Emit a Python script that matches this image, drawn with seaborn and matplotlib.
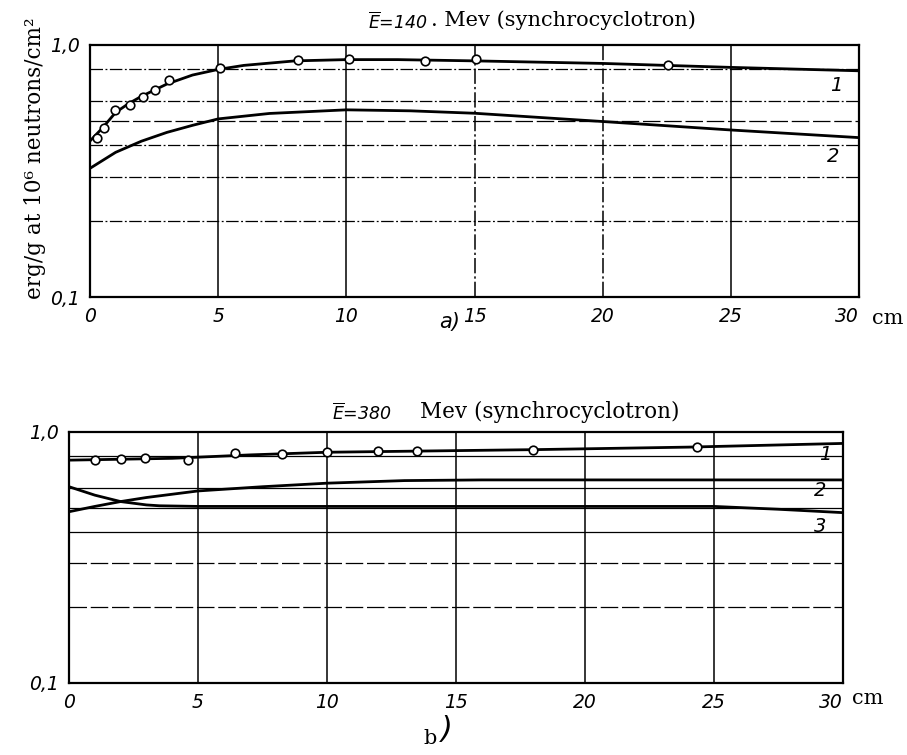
import numpy as np
import pandas as pd
import matplotlib
matplotlib.use("Agg")
import matplotlib.pyplot as plt
import seaborn as sns

# ---- panel a: 140 MeV ----
a_x_curve1 = [0, 0.5, 1, 1.5, 2, 3, 4, 5, 6, 8, 10, 12, 15, 20, 25, 30]
a_y_curve1 = [0.416, 0.47, 0.54, 0.585, 0.625, 0.70, 0.76, 0.80, 0.83, 0.865, 0.875, 0.875, 0.865, 0.845, 0.815, 0.79]
a_x_curve2 = [0, 1, 2, 3, 4, 5, 7, 10, 12.5, 15, 20, 25, 30]
a_y_curve2 = [0.324, 0.375, 0.415, 0.45, 0.48, 0.509, 0.535, 0.553, 0.548, 0.536, 0.497, 0.460, 0.429]
a_x_pts = [0.26, 0.55, 0.98, 1.56, 2.08, 2.54, 3.09, 5.08, 8.11, 10.09, 13.06, 15.07, 22.56]
a_y_pts = [0.426, 0.467, 0.552, 0.578, 0.624, 0.663, 0.724, 0.808, 0.872, 0.880, 0.866, 0.877, 0.833]

# ---- panel b: 380 MeV ----
b_x_curve1 = [0, 4, 7, 10, 14, 18, 24, 30]
b_y_curve1 = [0.772, 0.785, 0.81, 0.83, 0.84, 0.85, 0.87, 0.90]
b_x_curve2 = [0, 1, 2, 3, 5, 7.5, 10, 13, 16, 30]
b_y_curve2 = [0.481, 0.505, 0.528, 0.548, 0.582, 0.605, 0.625, 0.640, 0.644, 0.644]
b_x_curve3 = [0, 1, 2, 3, 3.5, 5, 25, 27.5, 30]
b_y_curve3 = [0.605, 0.56, 0.528, 0.512, 0.508, 0.505, 0.505, 0.492, 0.477]
b_x_pts = [1.0, 2.0, 2.95, 4.6, 6.43, 8.24, 10.0, 11.98, 13.5, 18.0, 24.33]
b_y_pts = [0.774, 0.783, 0.785, 0.774, 0.823, 0.817, 0.835, 0.840, 0.840, 0.848, 0.874]

x_ticks = [0, 5, 10, 15, 20, 25, 30]
x_tick_labels = ["0", "5", "10", "15", "20", "25", "30"]
y_grid = [0.2, 0.3, 0.4, 0.5, 0.6, 0.8]

sns.set_style("white")
plt.rcParams["mathtext.fontset"] = "dejavusans"
plt.rcParams["text.color"] = "black"
plt.rcParams["xtick.color"] = "black"
plt.rcParams["ytick.color"] = "black"

SANS = ["DejaVu Sans"]
SERIF = ["DejaVu Serif"]

fig = plt.figure(figsize=(9.07, 7.55), dpi=100)
ax_a = fig.add_axes([0.0992, 0.6066, 0.848, 0.3338])
ax_b = fig.add_axes([0.0761, 0.0954, 0.8533, 0.3325])

DASHDOT = (0, (10, 2, 1.5, 2))
LONGDASH = (0, (14, 3))

a_hstyles = [DASHDOT, DASHDOT, DASHDOT, LONGDASH, DASHDOT, DASHDOT]
a_vstyles = ["-", "-", DASHDOT, DASHDOT, "-"]
b_hstyles = [LONGDASH, LONGDASH, "-", "-", "-", "-"]
b_vstyles = ["-", "-", "-", "-", "-"]


def frame(ax, hstyles, vstyles):
    ax.set_yscale("log")
    ax.set_xlim(0, 30)
    ax.set_ylim(0.1, 1.0)
    for v, ls in zip(y_grid, hstyles):
        ax.axhline(v, color="black", lw=0.9, ls=ls, zorder=1)
    for v, ls in zip(x_ticks[1:-1], vstyles):
        ax.axvline(v, color="black", lw=1.1, ls=ls, zorder=1)
    for s in ax.spines.values():
        s.set_visible(True)
        s.set_linewidth(1.6)
        s.set_color("black")
    ax.set_xticks(x_ticks)
    ax.set_xticklabels(x_tick_labels)
    ax.set_yticks([0.1, 1.0])
    ax.set_yticks([], minor=True)
    ax.set_yticklabels(["0,1", "1,0"])
    ax.tick_params(axis="both", length=0, pad=7, labelcolor="black")
    for lab in ax.get_xticklabels() + ax.get_yticklabels():
        lab.set_family(SANS)
        lab.set_style("italic")
        lab.set_fontsize(13.5)
    ax.get_xticklabels()[-1].set_ha("right")
    ax.set_xlabel("")
    ax.set_ylabel("")


def curve(ax, xs, ys):
    sns.lineplot(x=xs, y=ys, ax=ax, color="black", lw=2.0, zorder=3)


def points(ax, xs, ys):
    sns.scatterplot(x=xs, y=ys, ax=ax, s=38, marker="o", facecolor="white",
                    edgecolor="black", linewidth=1.2, zorder=4)


# panel a
curve(ax_a, a_x_curve1, a_y_curve1)
curve(ax_a, a_x_curve2, a_y_curve2)
points(ax_a, a_x_pts, a_y_pts)
frame(ax_a, a_hstyles, a_vstyles)
ax_a.text(29.1, 0.69, "1", family=SANS, style="italic", fontsize=14, ha="center", va="center")
ax_a.text(29.0, 0.36, "2", family=SANS, style="italic", fontsize=14, ha="center", va="center")

# panel b
curve(ax_b, b_x_curve1, b_y_curve1)
curve(ax_b, b_x_curve2, b_y_curve2)
curve(ax_b, b_x_curve3, b_y_curve3)
points(ax_b, b_x_pts, b_y_pts)
frame(ax_b, b_hstyles, b_vstyles)
ax_b.text(29.3, 0.81, "1", family=SANS, style="italic", fontsize=14, ha="center", va="center")
ax_b.text(29.1, 0.587, "2", family=SANS, style="italic", fontsize=14, ha="center", va="center")
ax_b.text(29.1, 0.419, "3", family=SANS, style="italic", fontsize=14, ha="center", va="center")

# titles
fig.text(368 / 907, 1 - 22 / 755, r"$\overline{E}$=140", family=SANS, style="italic",
         fontsize=12.5, ha="left", va="center")
fig.text(431 / 907, 1 - 20 / 755, ". Mev (synchrocyclotron)", family=SERIF,
         fontsize=15, ha="left", va="center")
fig.text(332 / 907, 1 - 413 / 755, r"$\overline{E}$=380", family=SANS, style="italic",
         fontsize=12.5, ha="left", va="center")
fig.text(420 / 907, 1 - 412 / 755, "Mev (synchrocyclotron)", family=SERIF,
         fontsize=15.5, ha="left", va="center")

# axis units and panel letters
fig.text(888 / 907, 1 - 318 / 755, "cm", family=SERIF, fontsize=15, ha="center", va="center")
fig.text(868 / 907, 1 - 698 / 755, "cm", family=SERIF, fontsize=15, ha="center", va="center")
fig.text(450 / 907, 1 - 322 / 755, "a)", family=SANS, style="italic", fontsize=15,
         ha="center", va="center")
fig.text(430 / 907, 1 - 738 / 755, "b", family=SERIF, fontsize=15, ha="center", va="center")
fig.text(447 / 907, 1 - 730 / 755, ")", family=SANS, style="italic", fontsize=22,
         ha="center", va="center")

fig.text(35 / 907, 1 - 158 / 755, "erg/g at 10⁶ neutrons/cm²", family=SERIF,
         fontsize=15.5, rotation=90, ha="center", va="center")

fig.savefig("out.png", dpi=100)
